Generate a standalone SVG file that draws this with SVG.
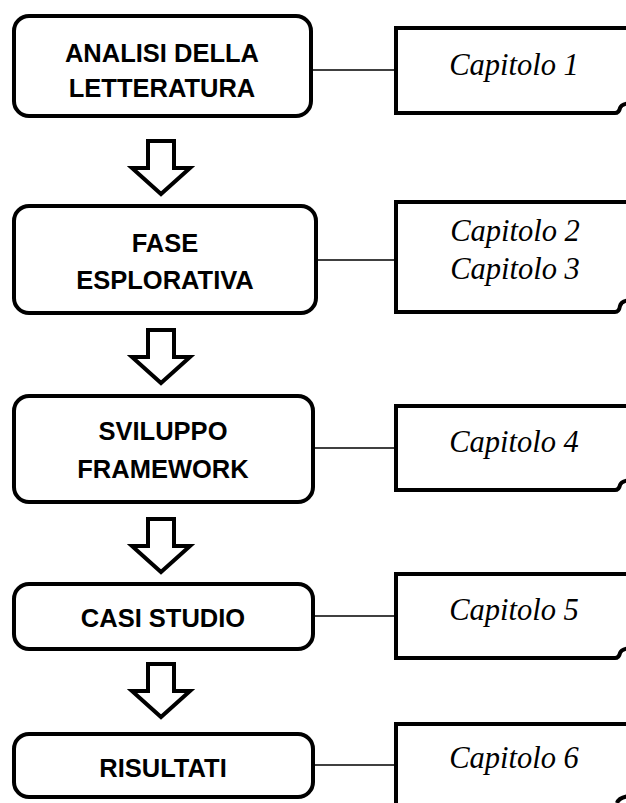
<svg xmlns="http://www.w3.org/2000/svg" width="626" height="803" viewBox="0 0 626 803">
  <style>
    .step { fill: #ffffff; stroke: #000000; stroke-width: 4; }
    .step-label { font-family: "Liberation Sans", Arial, sans-serif; font-weight: bold; font-size: 25.5px; fill: #000000; text-anchor: middle; }
    .note { fill: none; stroke: #000000; stroke-width: 4; stroke-linejoin: miter; }
    .note-label { font-family: "Liberation Serif", "Times New Roman", serif; font-style: italic; font-size: 30.5px; fill: #000000; text-anchor: middle; }
    .link { stroke: #000000; stroke-width: 1.5; fill: none; }
    .flow { fill: #ffffff; stroke: #000000; stroke-width: 4; stroke-linejoin: miter; stroke-miterlimit: 10; }
  </style>
  <defs>
    <!-- hollow downward block arrow, centred on x=0, top at y=0 -->
    <path id="down" d="M -13,0 H 13 V 27 H 29 L 0,53 L -29,27 H -13 Z"/>
  </defs>

  <!-- thin lines from each step to its chapter note -->
  <g id="connectors">
    <line class="link" x1="313" y1="70" x2="394" y2="70"/>
    <line class="link" x1="318" y1="260" x2="394" y2="260"/>
    <line class="link" x1="313" y1="448" x2="394" y2="448"/>
    <line class="link" x1="313" y1="616" x2="394" y2="616"/>
    <line class="link" x1="313" y1="765" x2="394" y2="765"/>
    <use href="#down" class="flow" x="161" y="141"/>
    <use href="#down" class="flow" x="161" y="330"/>
    <use href="#down" class="flow" x="161" y="519"/>
    <use href="#down" class="flow" x="161" y="664"/>
  </g>

  <!-- process steps -->
  <g id="step-analisi">
    <rect class="step" x="14" y="16" width="297" height="100" rx="15"/>
    <text class="step-label" x="162" y="62">ANALISI DELLA</text>
    <text class="step-label" x="162" y="97">LETTERATURA</text>
  </g>
  <g id="step-esplorativa">
    <rect class="step" x="14" y="206" width="302" height="107" rx="15"/>
    <text class="step-label" x="165" y="252">FASE</text>
    <text class="step-label" x="165" y="289">ESPLORATIVA</text>
  </g>
  <g id="step-framework">
    <rect class="step" x="14" y="396" width="299" height="106" rx="15"/>
    <text class="step-label" x="163" y="440">SVILUPPO</text>
    <text class="step-label" x="163" y="478">FRAMEWORK</text>
  </g>
  <g id="step-casi">
    <rect class="step" x="14" y="584" width="299" height="65" rx="15"/>
    <text class="step-label" x="163" y="627">CASI STUDIO</text>
  </g>
  <g id="step-risultati">
    <rect class="step" x="14" y="734" width="299" height="63" rx="15"/>
    <text class="step-label" x="163" y="777">RISULTATI</text>
  </g>

  <!-- chapter notes (curled-corner document shapes running off the right edge) -->
  <g id="note-1">
    <path class="note" d="M 630,28 H 396 V 113 H 615 Q 619,113 620,108 Q 621,104 630,103"/>
    <text class="note-label" x="514" y="75">Capitolo 1</text>
  </g>
  <g id="note-2">
    <path class="note" d="M 630,202 H 396 V 312 H 615 Q 619,312 620,306 Q 621,301 630,300"/>
    <text class="note-label" x="515" y="241">Capitolo 2</text>
    <text class="note-label" x="515" y="279">Capitolo 3</text>
  </g>
  <g id="note-4">
    <path class="note" d="M 630,406 H 396 V 490 H 615 Q 619,490 620,485 Q 621,481 630,480"/>
    <text class="note-label" x="514" y="452">Capitolo 4</text>
  </g>
  <g id="note-5">
    <path class="note" d="M 630,574 H 396 V 658 H 615 Q 619,658 620,653 Q 621,649 630,648"/>
    <text class="note-label" x="514" y="620">Capitolo 5</text>
  </g>
  <g id="note-6">
    <path class="note" d="M 630,724 H 396 V 810"/>
    <path class="note" d="M 617,803 Q 619,797 630,796"/>
    <text class="note-label" x="514" y="768">Capitolo 6</text>
  </g>
</svg>
